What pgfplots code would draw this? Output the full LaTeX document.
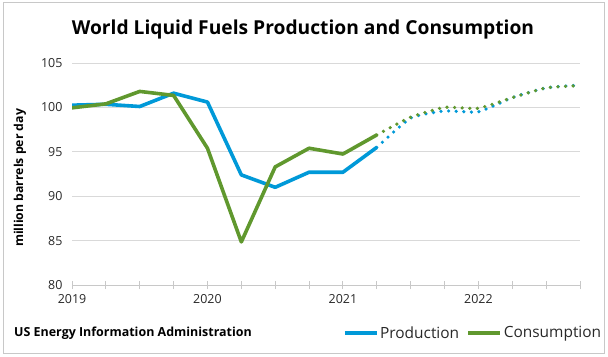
\documentclass[border=0pt]{standalone}
\usepackage{pgfplots}
\pgfplotsset{compat=1.18}
\usepackage{fontspec}
\setmainfont{Open Sans}
\definecolor{prod}{RGB}{0,153,216}
\definecolor{cons}{RGB}{96,152,46}
\definecolor{gridc}{RGB}{217,217,217}
\definecolor{axc}{RGB}{200,200,200}
\definecolor{txt}{RGB}{40,40,40}
\begin{document}
\begin{tikzpicture}
\path[use as bounding box] (0bp,0bp) rectangle (608bp,357bp);
\draw[color=axc, line width=0.9bp] (3bp,3.7bp) rectangle (604.3bp,354.3bp);
\node[font=\fontsize{19.3}{22}\selectfont\bfseries, text=black] at (303bp,327bp) {World Liquid Fuels Production and Consumption};
\node[font=\fontsize{12.3}{14}\selectfont\bfseries, text=black, rotate=90] at (20bp,179bp) {million barrels per day};
\node[font=\fontsize{12.5}{14}\selectfont\bfseries, text=black, anchor=west, inner sep=0pt] at (14bp,24bp) {US Energy Information Administration};
\begin{axis}[
  at={(72bp,72bp)}, anchor=south west,
  scale only axis, width=508bp, height=222bp,
  xmin=0, xmax=15, ymin=80, ymax=105,
  ytick={80,85,90,95,100,105},
  xtick={0,1,...,15},
  xticklabels={2019,,,,2020,,,,2021,,,,2022,,,},
  axis x line*=bottom, axis y line*=left,
  y axis line style={draw=none},
  x axis line style={draw=axc, line width=0.9bp},
  ytick style={draw=none},
  xtick style={draw=axc, line width=0.9bp},
  tick align=center, major tick length=8bp,
  ymajorgrids, grid style={draw=gridc, line width=0.9bp},
  /pgf/number format/assume math mode=true,
  tick label style={font=\fontsize{12.5}{14}\selectfont, text=txt},
  yticklabel style={xshift=-2bp},
  xticklabel style={yshift=-2bp},
  legend columns=2,
  legend style={at={(1.045,-0.216)}, anchor=east, draw=none, fill=none,
    font=\fontsize{15.5}{17}\selectfont, text=txt,
    /tikz/every even column/.append style={column sep=6bp},
    nodes={inner xsep=1.5bp},
    inner sep=0pt},
  legend image code/.code={\draw[#1] (0bp,0bp) -- (32bp,0bp);},
  legend cell align=left,
]
\addplot[prod, line width=3.6bp, line join=round] coordinates {
(0,100.25) (1,100.35) (2,100.1) (3,101.6) (4,100.6) (5,92.4) (6,91.0) (7,92.7) (8,92.7) (9,95.5)};
\addlegendentry{Production}
\addplot[cons, line width=3.6bp, line join=round] coordinates {
(0,99.95) (1,100.4) (2,101.8) (3,101.35) (4,95.4) (5,84.85) (6,93.3) (7,95.4) (8,94.75) (9,96.9)};
\addlegendentry{Consumption}
\addplot[prod, line width=3.6bp, line cap=round, dash pattern=on 0bp off 7.6bp, smooth, tension=0.3, forget plot] coordinates {
(9,95.5) (10,98.8) (11,99.6) (12,99.5) (13,101.1) (14,102.2) (15,102.5)};
\addplot[cons, line width=3.6bp, line cap=round, dash pattern=on 0bp off 7.6bp, smooth, tension=0.3, forget plot] coordinates {
(9,96.9) (10,98.9) (11,100.0) (12,99.9) (13,101.1) (14,102.2) (15,102.45)};
\end{axis}
\end{tikzpicture}
\end{document}
